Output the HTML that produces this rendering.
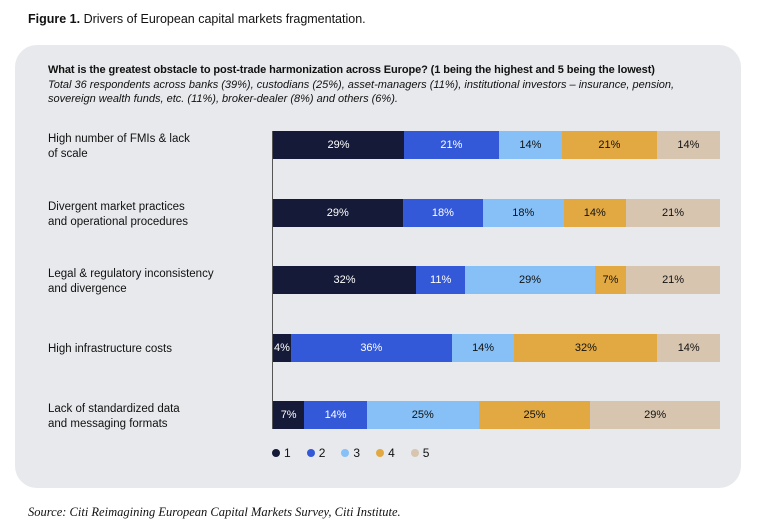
<!DOCTYPE html>
<html><head><style>
body{margin:0;width:768px;height:529px;background:#fff;font-family:"Liberation Sans",sans-serif;color:#111;position:relative;overflow:hidden}
.abs{position:absolute}
.panel{left:15px;top:45px;width:726px;height:443px;background:#e7e9ec;border-radius:22px}
.bar{position:absolute;left:273px;width:447px;height:28px;display:flex}
.bar div{height:100%;display:flex;align-items:center;justify-content:center;font-size:11px}
.c1{background:#141a38;color:#fff}.c2{background:#3459d8;color:#fff}.c3{background:#86c0f6;color:#111}.c4{background:#e2a942;color:#111}.c5{background:#d7c5af;color:#111}
.lab{position:absolute;left:48px;font-size:11.5px;line-height:15px}
.dot{display:inline-block;width:8px;height:8px;border-radius:50%;margin-right:4px;vertical-align:-0px}
</style></head><body>
<div class="abs" style="left:28px;top:12px;font-size:12.5px"><b>Figure 1.</b> Drivers of European capital markets fragmentation.</div>
<div class="abs panel"></div>
<div class="abs" style="left:48px;top:64px;font-size:11px;font-weight:bold;letter-spacing:-0.1px">What is the greatest obstacle to post-trade harmonization across Europe? (1 being the highest and 5 being the lowest)</div>
<div class="abs" style="left:48px;top:78px;font-size:11px;font-style:italic;line-height:14px;width:690px">Total 36 respondents across banks (39%), custodians (25%), asset-managers (11%), institutional investors – insurance, pension,<br>sovereign wealth funds, etc. (11%), broker-dealer (8%) and others (6%).</div>
<div class="abs" style="left:272px;top:131px;width:1px;height:298px;background:#555"></div>
<div class="lab" style="top:132px">High number of FMIs &amp; lack<br>of scale</div>
<div class="bar" style="top:131px"><div class="c1" style="flex:29">29%</div><div class="c2" style="flex:21">21%</div><div class="c3" style="flex:14">14%</div><div class="c4" style="flex:21">21%</div><div class="c5" style="flex:14">14%</div></div>
<div class="lab" style="top:200px">Divergent market practices<br>and operational procedures</div>
<div class="bar" style="top:199px"><div class="c1" style="flex:29">29%</div><div class="c2" style="flex:18">18%</div><div class="c3" style="flex:18">18%</div><div class="c4" style="flex:14">14%</div><div class="c5" style="flex:21">21%</div></div>
<div class="lab" style="top:267px">Legal &amp; regulatory inconsistency<br>and divergence</div>
<div class="bar" style="top:266px"><div class="c1" style="flex:32">32%</div><div class="c2" style="flex:11">11%</div><div class="c3" style="flex:29">29%</div><div class="c4" style="flex:7">7%</div><div class="c5" style="flex:21">21%</div></div>
<div class="lab" style="top:342px">High infrastructure costs</div>
<div class="bar" style="top:334px"><div class="c1" style="flex:4">4%</div><div class="c2" style="flex:36">36%</div><div class="c3" style="flex:14">14%</div><div class="c4" style="flex:32">32%</div><div class="c5" style="flex:14">14%</div></div>
<div class="lab" style="top:402px">Lack of standardized data<br>and messaging formats</div>
<div class="bar" style="top:401px"><div class="c1" style="flex:7">7%</div><div class="c2" style="flex:14">14%</div><div class="c3" style="flex:25">25%</div><div class="c4" style="flex:25">25%</div><div class="c5" style="flex:29">29%</div></div>
<div class="abs" style="left:272px;top:446px;font-size:12px;word-spacing:2px">
<span class="dot" style="background:#141a38"></span>1&nbsp;&nbsp; <span class="dot" style="background:#3459d8"></span>2&nbsp;&nbsp; <span class="dot" style="background:#86c0f6"></span>3&nbsp;&nbsp; <span class="dot" style="background:#e2a942"></span>4&nbsp;&nbsp; <span class="dot" style="background:#d7c5af"></span>5</div>
<div class="abs" style="left:28px;top:505px;font-size:12.5px;font-style:italic;font-family:'Liberation Serif',serif">Source: Citi Reimagining European Capital Markets Survey, Citi Institute.</div>
</body></html>
